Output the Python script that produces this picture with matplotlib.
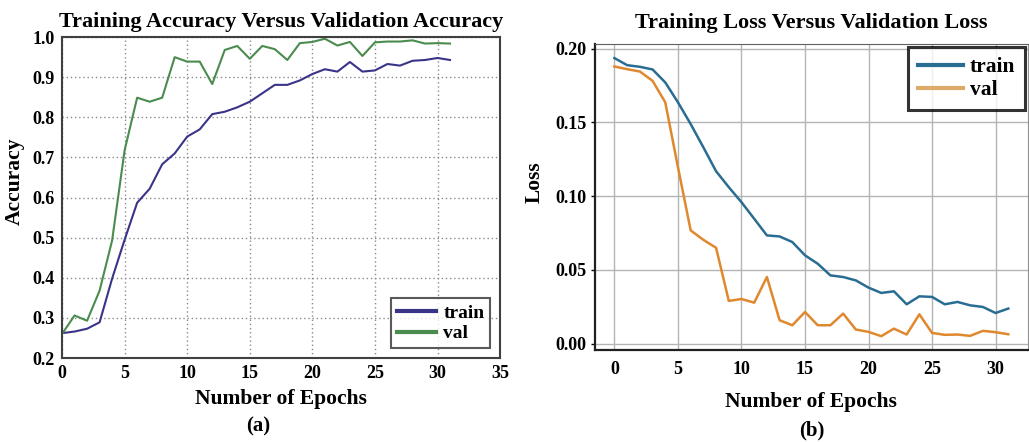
import matplotlib
matplotlib.use("Agg")
import matplotlib.pyplot as plt
import numpy as np

plt.rcParams['font.family'] = ['Liberation Serif', 'DejaVu Serif']
plt.rcParams['font.weight'] = 'bold'

epochs = list(range(32))

acc_train = [0.262, 0.266, 0.273, 0.289, 0.398, 0.495, 0.587, 0.622, 0.683, 0.710,
             0.752, 0.770, 0.808, 0.814, 0.825, 0.839, 0.860, 0.881, 0.881, 0.892,
             0.908, 0.920, 0.914, 0.938, 0.914, 0.917, 0.933, 0.929, 0.941, 0.943,
             0.948, 0.943]
acc_val = [0.260, 0.306, 0.293, 0.368, 0.493, 0.718, 0.849, 0.839, 0.849, 0.950,
           0.939, 0.939, 0.883, 0.968, 0.978, 0.946, 0.978, 0.970, 0.943, 0.985,
           0.988, 0.996, 0.979, 0.988, 0.953, 0.987, 0.989, 0.989, 0.992, 0.984,
           0.985, 0.984]

loss_train = [0.1935, 0.1887, 0.1876, 0.1858, 0.1770, 0.1635, 0.1488, 0.1330, 0.1168, 0.1060,
              0.0958, 0.0846, 0.0733, 0.0726, 0.0688, 0.0598, 0.0541, 0.0462, 0.0451, 0.0428,
              0.0379, 0.0343, 0.0354, 0.0266, 0.0320, 0.0316, 0.0266, 0.0282, 0.0259, 0.0248,
              0.0207, 0.0237]
loss_val = [0.1878, 0.1860, 0.1844, 0.1781, 0.1635, 0.1195, 0.0767, 0.0703, 0.0649, 0.0289,
            0.0302, 0.0277, 0.0451, 0.0158, 0.0124, 0.0214, 0.0124, 0.0124, 0.0203, 0.0095,
            0.0079, 0.0050, 0.0101, 0.0061, 0.0198, 0.0072, 0.0059, 0.0061, 0.0052, 0.0086,
            0.0077, 0.0063]

acc_xticks = [0, 5, 10, 15, 20, 25, 30, 35]
acc_yticks = [0.2, 0.3, 0.4, 0.5, 0.6, 0.7, 0.8, 0.9, 1.0]
loss_xticks = [0, 5, 10, 15, 20, 25, 30]
loss_yticks = [0.00, 0.05, 0.10, 0.15, 0.20]

fig = plt.figure(figsize=(10.29, 4.42), dpi=100)

# ---- (a) accuracy ----
ax1 = fig.add_axes([0.0603, 0.190, 0.4257, 0.726])
ax1.plot(epochs, acc_train, color='#3a3488', lw=1.5, label='train')
ax1.plot(epochs, acc_val, color='#4a8c4e', lw=1.5, label='val')
ax1.set_xlim(0, 35)
ax1.set_ylim(0.2, 1.0)
ax1.set_xticks(acc_xticks)
ax1.set_yticks(acc_yticks)
ax1.set_yticklabels([f"{v:.1f}" for v in acc_yticks])
ax1.grid(True, linestyle=(0, (1, 2)), color='#8a8a8a', lw=1.0)
ax1.tick_params(length=0, labelsize=13, pad=5)
for s in ax1.spines.values():
    s.set_color('#404040')
    s.set_linewidth(1.5)
ax1.set_title('Training Accuracy Versus Validation Accuracy', fontsize=16,
              fontweight='bold', pad=7)
ax1.set_xlabel('Number of Epochs', fontsize=15.5, fontweight='bold', labelpad=5)
ax1.set_ylabel('Accuracy', fontsize=15.5, fontweight='bold')
ax1.yaxis.set_label_coords(-0.085, 0.55)
leg1 = ax1.legend(loc='lower right', fontsize=14, handlelength=2.0, frameon=True,
                  fancybox=False, borderaxespad=0.5, handletextpad=0.4,
                  labelspacing=0.15, borderpad=0.3)
leg1.get_frame().set_edgecolor('#303030')
leg1.get_frame().set_linewidth(1.5)
for line in leg1.get_lines():
    line.set_linewidth(3)
fig.text(0.251, 0.034, '(a)', fontsize=15, fontweight='bold', ha='center', va='center')

# ---- (b) loss ----
ax2 = fig.add_axes([0.578, 0.208, 0.421, 0.692])
ax2.plot(epochs, loss_train, color='#2a6d93', lw=1.8, label='train')
ax2.plot(epochs, loss_val, color='#e0882e', lw=1.8, label='val')
ax2.set_xticks(loss_xticks)
ax2.set_yticks(loss_yticks)
ax2.set_yticklabels([f"{v:.2f}" for v in loss_yticks])
ax2.grid(True, linestyle='-', color='#b4b4b4', lw=1.0)
ax2.tick_params(axis='y', length=3, width=1, labelsize=13, pad=3)
ax2.tick_params(axis='x', length=0, labelsize=13, pad=8)
ax2.spines['left'].set_color('#202020')
ax2.spines['bottom'].set_color('#202020')
ax2.spines['left'].set_linewidth(1.6)
ax2.spines['bottom'].set_linewidth(1.6)
ax2.spines['top'].set_color('#606060')
ax2.spines['right'].set_color('#909090')
ax2.set_title('Training Loss Versus Validation Loss', fontsize=16,
              fontweight='bold', pad=12)
ax2.set_xlabel('Number of Epochs', fontsize=15.5, fontweight='bold', labelpad=10)
ax2.set_ylabel('Loss', fontsize=15.5, fontweight='bold')
ax2.yaxis.set_label_coords(-0.115, 0.55)
leg2 = ax2.legend(loc='upper right', fontsize=15.5, handlelength=2.1, frameon=True,
                  fancybox=False, borderaxespad=0.15, handletextpad=0.3,
                  labelspacing=0.15, borderpad=0.45)
leg2.get_frame().set_edgecolor('black')
leg2.get_frame().set_linewidth(2.2)
leg2.get_lines()[0].set_linewidth(3)
leg2.get_lines()[1].set_linewidth(3)
leg2.get_lines()[1].set_color('#deaa6a')
fig.text(0.789, 0.027, '(b)', fontsize=15, fontweight='bold', ha='center', va='center')

fig.savefig('out.png', dpi=100)
